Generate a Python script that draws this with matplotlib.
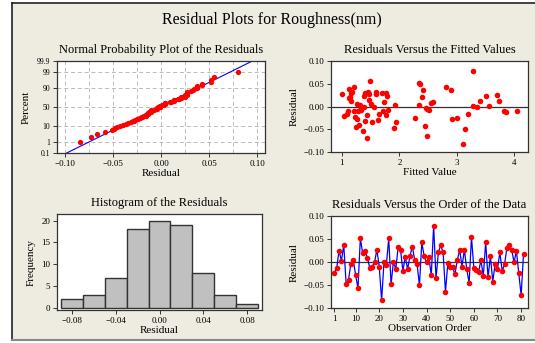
import numpy as np
import matplotlib
matplotlib.use("Agg")
import matplotlib.pyplot as plt
from matplotlib.patches import Rectangle
from matplotlib.lines import Line2D
from statistics import NormalDist

# ---------------- data ----------------
residuals = [
    -0.024, -0.014, 0.025, 0.003, 0.037, -0.048, -0.039, -0.004, 0.004, -0.028,
    -0.058, 0.052, 0.019, 0.025, 0.009, -0.013, -0.010, -0.001, 0.027, -0.010,
    -0.084, -0.001, -0.007, 0.052, -0.049, 0.001, -0.016, 0.033, 0.027, -0.020,
    0.012, -0.016, 0.014, 0.034, 0.004, -0.005, -0.051, 0.043, 0.013, -0.001,
    0.010, -0.029, 0.080, -0.036, 0.021, 0.037, 0.021, -0.066, -0.003, -0.010,
    -0.012, -0.027, 0.004, 0.027, -0.010, 0.027, -0.016, -0.046, 0.055, -0.014,
    -0.018, -0.022, 0.004, -0.031, 0.043, -0.034, 0.013, -0.043, -0.004, -0.015,
    0.021, -0.020, -0.004, 0.031, 0.037, 0.027, -0.001, 0.025, -0.025, -0.073,
    0.018,
]

fitted_values = [
    1.00, 1.03, 1.08, 1.11, 1.12, 1.13, 1.14, 1.16, 1.16, 1.18,
    1.21, 1.21, 1.23, 1.24, 1.26, 1.27, 1.28, 1.30, 1.31, 1.33,
    1.34, 1.37, 1.38, 1.39, 1.40, 1.41, 1.43, 1.43, 1.44, 1.45,
    1.47, 1.47, 1.49, 1.50, 1.53, 1.56, 1.59, 1.60, 1.62, 1.65,
    1.69, 1.72, 1.73, 1.76, 1.76, 1.78, 1.80, 1.90, 1.92, 1.95,
    2.27, 2.34, 2.36, 2.34, 2.39, 2.42, 2.45, 2.46, 2.48, 2.49,
    2.52, 2.55, 2.59, 2.81, 2.90, 2.91, 3.01, 3.10, 3.14, 3.20,
    3.28, 3.29, 3.35, 3.41, 3.51, 3.56, 3.70, 3.74, 3.83, 3.85,
    4.05,
]
fitted_resid = [
    0.028, -0.020, -0.017, -0.010, 0.018, 0.038, 0.022, 0.013, 0.029, 0.033,
    0.044, -0.011, -0.023, -0.045, -0.027, 0.005, -0.010, -0.042, 0.003, -0.008,
    -0.003, -0.055, 0.023, 0.000, 0.029, -0.033, 0.030, -0.019, -0.070, 0.033,
    0.014, 0.027, 0.057, 0.005, -0.035, -0.002, 0.027, 0.033, -0.030, -0.016,
    0.029, -0.010, 0.009, 0.030, -0.019, 0.023, -0.008, -0.047, 0.004, -0.035,
    -0.026, 0.053, 0.051, 0.004, 0.022, 0.036, -0.043, -0.003, -0.005, -0.065,
    -0.008, 0.007, 0.010, 0.043, 0.036, -0.028, -0.025, -0.083, -0.051, -0.016,
    0.078, 0.002, -0.002, 0.013, 0.024, 0.002, 0.025, 0.013, -0.010, -0.013,
    -0.011,
]

hist_centers = [-0.08, -0.06, -0.04, -0.02, 0.00, 0.02, 0.04, 0.06, 0.08]
hist_counts = [2, 3, 7, 18, 20, 19, 8, 3, 1]

prob_ticks = [0.1, 1, 10, 50, 90, 99, 99.9]
prob_tick_labels = ["0.1", "1", "10", "50", "90", "99", "99.9"]

# ---------------- style ----------------
plt.rcParams['font.family'] = ['Liberation Serif', 'DejaVu Serif']
W, H = 535, 343
fig = plt.figure(figsize=(W / 100, H / 100), dpi=100)
fig.patch.set_facecolor('white')

bg = '#EEEBE1'
fig.patches.append(Rectangle((12 / W, 1 - 340 / H), (W - 12) / W, (340 - 3) / H,
                             transform=fig.transFigure, facecolor=bg,
                             edgecolor='none', zorder=-10))
fig.lines.append(Line2D([12 / W, 12 / W], [1 - 340 / H, 1 - 3 / H],
                        transform=fig.transFigure, color='#222222', lw=1.2, zorder=-5))
fig.lines.append(Line2D([12 / W, 1], [1 - 3 / H, 1 - 3 / H],
                        transform=fig.transFigure, color='#222222', lw=1.2, zorder=-5))
fig.lines.append(Line2D([12 / W, 1], [1 - 340 / H, 1 - 340 / H],
                        transform=fig.transFigure, color='#888888', lw=1.5, zorder=-5))


def box(l, r, t, b):
    return [l / W, 1 - b / H, (r - l) / W, (b - t) / H]


def style(ax):
    ax.set_facecolor('white')
    for s in ax.spines.values():
        s.set_color('#333333')
        s.set_linewidth(0.9)
    ax.tick_params(labelsize=6.5, length=3, width=0.7, color='#333333', pad=2)


red = '#FF0000'
blue = '#0000FF'
tfs = 9
lfs = 8

fig.text(0.508, 1 - 20 / H, 'Residual Plots for Roughness(nm)', ha='center',
         va='center', fontsize=11.5)

# ---- Normal probability plot ----
ax1 = fig.add_axes(box(57, 265, 61, 153))
style(ax1)
nd = NormalDist()
n = len(residuals)
srt = np.sort(residuals)
pp = [(i + 1 - 0.3) / (n + 0.4) for i in range(n)]
z = [nd.inv_cdf(p) for p in pp]
mu = float(np.mean(residuals))
sd = float(np.std(residuals, ddof=1))
zlo, zhi = nd.inv_cdf(0.001), nd.inv_cdf(0.999)
ax1.plot([mu + sd * zlo, mu + sd * zhi], [zlo, zhi], color=blue, lw=0.8, zorder=2)
ax1.plot(srt, z, 'o', color=red, ms=3.8, mec='none', zorder=3)
ax1.set_ylim(zlo, zhi)
ax1.set_xlim(-0.108, 0.108)
ax1.set_yticks([nd.inv_cdf(p / 100) for p in prob_ticks])
ax1.set_yticklabels(prob_tick_labels, fontsize=5.5)
ax1.set_xticks([-0.10, -0.05, 0.0, 0.05, 0.10])
ax1.set_xticklabels(['\u22120.10', '\u22120.05', '0.00', '0.05', '0.10'])
for xv in np.arange(-0.1, 0.1001, 0.025):
    ax1.axvline(xv, color='#BBBBBB', lw=0.7, ls=(0, (4, 3)), zorder=1)
for p in [1, 10, 50, 90, 99]:
    ax1.axhline(nd.inv_cdf(p / 100), color='#BBBBBB', lw=0.7, ls=(0, (4, 3)), zorder=1)
ax1.set_title('Normal Probability Plot of the Residuals', fontsize=tfs, pad=6)
ax1.set_xlabel('Residual', fontsize=lfs, labelpad=1)
ax1.set_ylabel('Percent', fontsize=lfs, labelpad=4)

# ---- Residuals vs fitted ----
ax2 = fig.add_axes(box(331, 528, 61, 152))
style(ax2)
ax2.axhline(0, color='#333333', lw=0.9, zorder=1)
ax2.plot(fitted_values, fitted_resid, 'o', color=red, ms=4, mec='none', zorder=3)
ax2.set_xlim(0.81, 4.24)
ax2.set_ylim(-0.101, 0.101)
ax2.set_xticks([1, 2, 3, 4])
ax2.set_yticks([-0.10, -0.05, 0.0, 0.05, 0.10])
ax2.set_yticklabels(['\u22120.10', '\u22120.05', '0.00', '0.05', '0.10'])
ax2.set_title('Residuals Versus the Fitted Values', fontsize=tfs, pad=6)
ax2.set_xlabel('Fitted Value', fontsize=lfs, labelpad=1)
ax2.set_ylabel('Residual', fontsize=lfs, labelpad=3)

# ---- Histogram ----
ax3 = fig.add_axes(box(57, 262, 214, 310))
style(ax3)
ax3.bar(hist_centers, hist_counts, width=0.02, color='#C0C0C0',
        edgecolor='#333333', linewidth=1.0, zorder=2)
ax3.set_xlim(-0.0937, 0.0937)
ax3.set_ylim(-0.4, 21.5)
ax3.set_xticks([-0.08, -0.04, 0.0, 0.04, 0.08])
ax3.set_xticklabels(['\u22120.08', '\u22120.04', '0.00', '0.04', '0.08'])
ax3.set_yticks([0, 5, 10, 15, 20])
ax3.set_title('Histogram of the Residuals', fontsize=tfs, pad=6)
ax3.set_xlabel('Residual', fontsize=lfs, labelpad=1)
ax3.set_ylabel('Frequency', fontsize=lfs, labelpad=4)

# ---- Residuals vs order ----
ax4 = fig.add_axes(box(331, 528, 216, 308))
style(ax4)
obs = np.arange(1, len(residuals) + 1)
ax4.axhline(0, color='#333333', lw=0.9, zorder=1)
ax4.plot(obs, residuals, '-', color=blue, lw=0.9, zorder=2)
ax4.plot(obs, residuals, 'o', color=red, ms=4, mec='none', zorder=3)
ax4.set_xlim(-0.4, 82.9)
ax4.set_ylim(-0.101, 0.101)
ax4.set_xticks([1, 10, 20, 30, 40, 50, 60, 70, 80])
ax4.set_yticks([-0.10, -0.05, 0.0, 0.05, 0.10])
ax4.set_yticklabels(['\u22120.10', '\u22120.05', '0.00', '0.05', '0.10'])
ax4.set_title('Residuals Versus the Order of the Data', fontsize=tfs, pad=6)
ax4.set_xlabel('Observation Order', fontsize=lfs, labelpad=1)
ax4.set_ylabel('Residual', fontsize=lfs, labelpad=3)

fig.savefig('out.png', dpi=100, facecolor=fig.get_facecolor())
